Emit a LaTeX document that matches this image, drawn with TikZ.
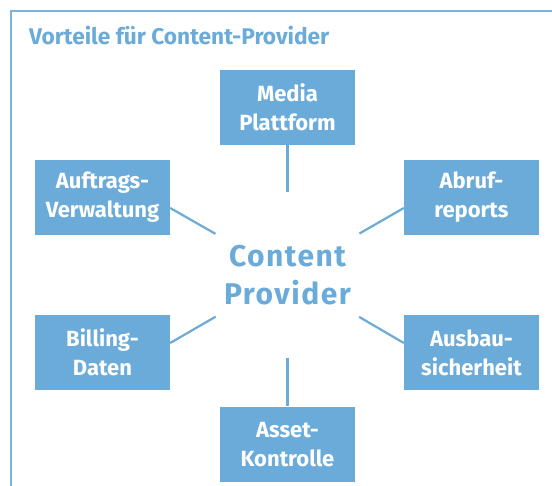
\documentclass[tikz,border=0pt]{standalone}
\usepackage{fontspec}
\setmainfont{Fira Sans}
\newfontfamily\spacedfont[LetterSpace=5]{Fira Sans}
\definecolor{boxblue}{RGB}{106,171,217}
\definecolor{titleblue}{RGB}{106,171,217}
\definecolor{frameblue}{RGB}{125,178,221}
\tikzset{
  infobox/.style={rectangle, fill=boxblue, minimum width=135pt, minimum height=75pt,
    inner sep=0pt, align=center, text=white,
    font=\bfseries\fontsize{22}{29}\selectfont},
  spoke/.style={draw=boxblue, line width=2.2pt, shorten >=83pt},
  frameline/.style={draw=frameblue, line width=1.2pt},
}
\begin{document}
\begin{tikzpicture}[x=1pt,y=-1pt]
\useasboundingbox (0,0) rectangle (552,486);
\draw[frameline] (11,486) -- (11,11) -- (552,11);
\node[anchor=base west, inner sep=0pt, text=titleblue, font=\bfseries\fontsize{22.7}{26}\selectfont] (title) at (29,45) {Vorteile für Content-Provider};
\coordinate (c) at (287.5,275);
\node[inner sep=0pt, align=center, text=titleblue, font=\spacedfont\bfseries\fontsize{30}{38}\selectfont] (center) at (c) {Content\\Provider};
\node[infobox] (media) at (287.5,107.5) {Media\\Plattform};
\node[infobox] (auf) at (102.5,197.5) {Auftrags-\\Verwaltung};
\node[infobox] (abruf) at (471.5,197.5) {Abruf-\\reports};
\node[infobox] (bill) at (102.5,352.5) {Billing-\\Daten};
\node[infobox] (ausbau) at (471.5,352.5) {Ausbau-\\sicherheit};
\node[infobox] (asset) at (287.5,444.2) {Asset-\\Kontrolle};
\draw[spoke] (media.south) -- (c);
\draw[spoke] (asset.north) -- (c);
\draw[spoke] ([yshift=-10.5pt]auf.east) -- (c);
\draw[spoke] ([yshift=-10.5pt]abruf.west) -- (c);
\draw[spoke] ([yshift=9.5pt]bill.east) -- (c);
\draw[spoke] ([yshift=9.5pt]ausbau.west) -- (c);
\end{tikzpicture}
\end{document}
